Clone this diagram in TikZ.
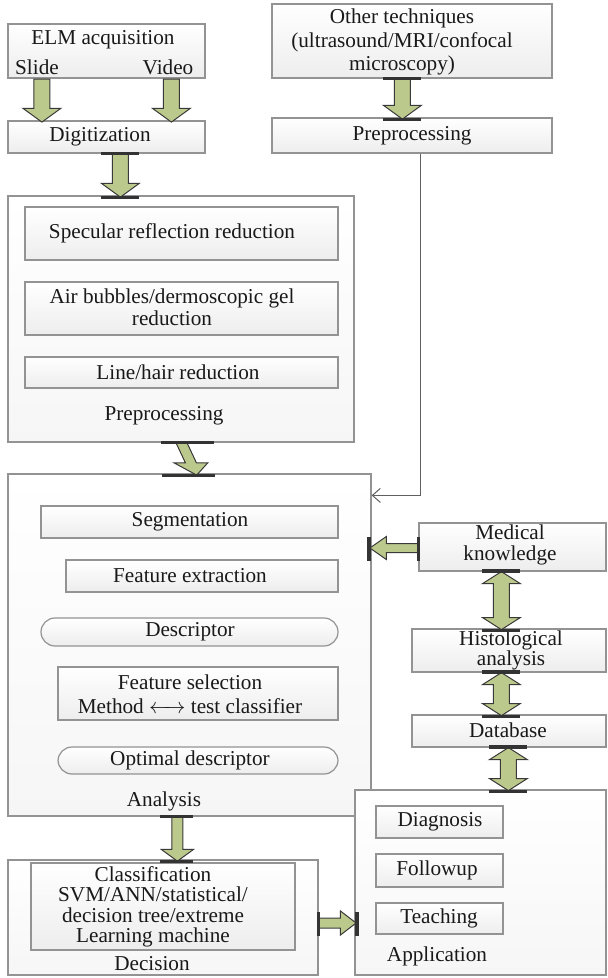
\documentclass[tikz,border=0pt]{standalone}
\usepackage{fontspec}
\setmainfont{Liberation Serif}
\usetikzlibrary{shapes.arrows,fit,calc,arrows.meta}
\definecolor{leaf}{RGB}{188,201,140}
\begin{document}
\begin{tikzpicture}
    [x=0.5pt, y=-0.5pt,
     every node/.style={font=\fontsize{10.6}{11.8}\selectfont, text=black!90},
     box/.style={draw=gray!85, line width=0.6pt, top color=white, bottom color=gray!14, inner sep=0pt},
     frame/.style={box, bottom color=gray!7},
     txt/.style={align=center, inner sep=0pt},
     fat/.style={single arrow, draw=gray!45!black, line width=0.5pt, fill=leaf, inner sep=0pt, inner ysep=3.75pt,
                 single arrow head extend=5.5pt, single arrow tip angle=108, anchor=tail},
     twin/.style={double arrow, draw=gray!45!black, line width=0.5pt, fill=leaf, inner sep=0pt, inner ysep=3.75pt,
                  double arrow head extend=5.5pt, double arrow tip angle=115, rotate=90},
     bar/.style={draw=black!80, line width=1.6pt},
     link/.style={draw=gray!75!black, line width=0.5pt, -{Straight Barb[length=4pt,width=7pt]}}]
    \useasboundingbox (0,0) rectangle (607,978);

    % acquisition
    \node[box, fit={(8,24) (205,78)}] (elm) {};
    \node[txt] (elm-t) at (103,40) {ELM acquisition};
    \node[txt] (slide) at (37,67) {Slide};
    \node[txt] (video) at (168,67) {Video};
    \node[box, fit={(8,121) (205,153)}] (digit) {};
    \node[txt] (digit-t) at (100,137) {Digitization};
    \node[box, fit={(272,4) (552,78)}] (other) {};
    \node[txt] (other-t) at (402,42) {Other techniques\\(ultrasound/MRI/confocal\\microscopy)};
    \node[box, fit={(272,118) (552,153)}] (prepr) {};
    \node[txt] (prepr-t) at (412,136) {Preprocessing};

    % preprocessing
    \node[frame, fit={(8,196) (354,442)}] (prep) {};
    \node[box, fit={(25,207) (338,260)}] (spec) {};
    \node[txt] (spec-t) at (172,233) {Specular reflection reduction};
    \node[box, fit={(25,282) (338,335)}] (air) {};
    \node[txt, font=\fontsize{10.6}{10.8}\selectfont] (air-t) at (172,307) {Air bubbles/dermoscopic gel\\reduction};
    \node[box, fit={(25,357) (338,388)}] (hair) {};
    \node[txt] (hair-t) at (178,372) {Line/hair reduction};
    \node[txt] (prep-t) at (164,416) {Preprocessing};

    % analysis
    \node[frame, fit={(8,474) (371,816)}] (ana) {};
    \node[box, fit={(41,506) (338,538)}] (seg) {};
    \node[txt] (seg-t) at (190,522) {Segmentation};
    \node[box, fit={(66,560) (338,592)}] (fext) {};
    \node[txt] (fext-t) at (190,576) {Feature extraction};
    \node[box, rounded corners=7pt, fit={(41,618) (338,646)}] (desc) {};
    \node[txt] (desc-t) at (190,632) {Descriptor};
    \node[box, fit={(58,667) (338,720)}] (fsel) {};
    \node[txt, font=\fontsize{10.6}{11.8}\selectfont] (fsel-t) at (190,694) {Feature selection\\Method $\leftarrow\!\!\rightarrow$ test classifier};
    \node[box, rounded corners=7pt, fit={(58,747) (338,774)}] (opt) {};
    \node[txt] (opt-t) at (190,760) {Optimal descriptor};
    \node[txt] (ana-t) at (164,801) {Analysis};

    % decision
    \node[frame, fit={(8,860) (318,975)}] (dec) {};
    \node[box, fit={(31,863) (295,950)}] (class) {};
    \node[txt, font=\fontsize{10.6}{10.2}\selectfont] (class-t) at (153,907) {Classification\\SVM/ANN/statistical/\\decision tree/extreme\\Learning machine};
    \node[txt] (dec-t) at (152,964) {Decision};

    % knowledge and application
    \node[box, fit={(419,523) (606,571)}] (med) {};
    \node[txt, font=\fontsize{10.6}{10.5}\selectfont] (med-t) at (510,545) {Medical\\knowledge};
    \node[box, fit={(412,629) (606,672)}] (hist) {};
    \node[txt, font=\fontsize{10.6}{10}\selectfont] (hist-t) at (511,650) {Histological\\analysis};
    \node[box, fit={(412,715) (606,747)}] (db) {};
    \node[txt] (db-t) at (508,730) {Database};
    \node[frame, fit={(355,790) (606,975)}] (app) {};
    \node[box, fit={(376,806) (503,838)}] (diag) {};
    \node[txt] (diag-t) at (440,822) {Diagnosis};
    \node[box, fit={(376,854) (503,887)}] (follow) {};
    \node[txt] (follow-t) at (437,870) {Followup};
    \node[box, fit={(376,903) (503,934)}] (teach) {};
    \node[txt] (teach-t) at (439,918) {Teaching};
    \node[txt] (app-t) at (437,956) {Application};

    % block arrows
    \node[fat, rotate=-90, minimum height=21.5pt] (a1) at ($(elm.south west)+(34.5,0)$) {};
    \node[fat, rotate=-90, minimum height=21.5pt] (a2) at ($(elm.south west)+(164,0)$) {};
    \node[fat, rotate=-90, minimum height=21.5pt] (a3) at ($(digit.south west)+(113,0)$) {};
    \node[fat, rotate=-90, minimum height=20pt] (a4) at ($(other.south west)+(131,0)$) {};
    \node[fat, rotate=-90, yslant=0.47, minimum height=16pt, inner ysep=2.5pt, single arrow head extend=5.75pt] (a5) at ($(prep.south west)+(174,0)$) {};
    \node[fat, rotate=-90, minimum height=22pt, inner ysep=2.5pt, single arrow head extend=5.25pt] (a6) at ($(ana.south west)+(170,0)$) {};
    \node[fat, rotate=180, minimum height=24pt, inner ysep=2pt, single arrow head extend=3.5pt, single arrow tip angle=70] (a7) at ($(med.west)+(0,1)$) {};
    \node[fat, minimum height=18.5pt, inner ysep=2.25pt, single arrow head extend=3.5pt, single arrow tip angle=75] (a8) at ($(dec.east)+(0,5.5)$) {};
    \node[twin, minimum height=29pt] (d1) at ($(med.south west)+(83,29)$) {};
    \node[twin, minimum height=21.5pt] (d2) at ($(hist.south west)+(90,21.5)$) {};
    \node[twin, minimum height=21.5pt] (d3) at ($(db.south west)+(97,21.5)$) {};

    \foreach \p in {a3.tail, a3.tip, a4.tail, a4.tip, d1.tip 1, d1.tip 2, d2.tip 1, d2.tip 2, d3.tip 1, d3.tip 2}
        \draw[bar] ($(\p)+(-19,0)$) -- +(38,0);
    \draw[bar] ($(a5.tail)+(-20,0)$) -- +(53,0);
    \draw[bar] ($(a5.tip)+(-35,0)$) -- +(53,0);
    \draw[bar] ($(a6.tail)+(-17,0)$) -- +(33,0);
    \draw[bar] ($(a6.tip)+(-17,0)$) -- +(33,0);
    \foreach \p in {a7.tail, a7.tip, a8.tail, a8.tip}
        \draw[bar] ($(\p)+(0,-11)$) -- +(0,24);

    \draw[link] ($(prepr.south)+(8,0)$) |- ($(ana.north east)+(0,22)$);
\end{tikzpicture}
\end{document}
